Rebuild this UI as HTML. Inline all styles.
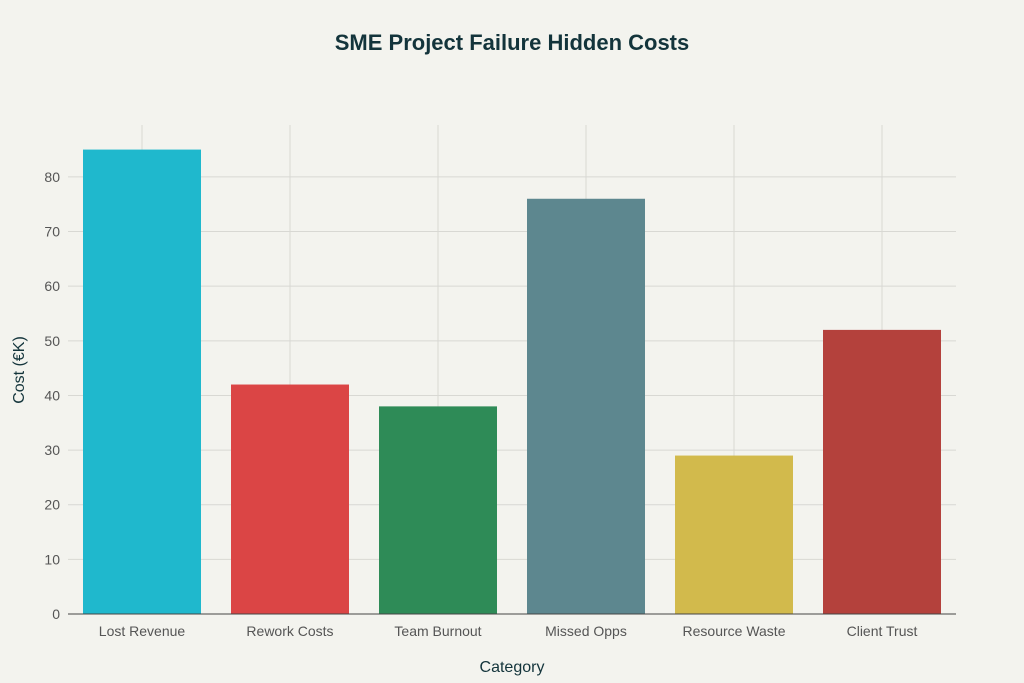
<!DOCTYPE html>
<html><head><meta charset="utf-8"><style>
body{margin:0;background:#f3f3ee;font-family:"Liberation Sans",sans-serif;}
svg{display:block}
</style></head><body>
<svg id="chart" width="1024" height="683">
<rect width="1024" height="683" fill="#f3f3ee"/>
<text x="512" y="50" text-anchor="middle" font-size="22" font-weight="bold" fill="#13343b">SME Project Failure Hidden Costs</text>
<g id="grid"></g><g id="bars"></g><g id="axes"></g>
<text x="512" y="672" text-anchor="middle" font-size="16" fill="#13343b">Category</text>
<text transform="translate(24,370) rotate(-90)" text-anchor="middle" font-size="16" fill="#13343b">Cost (€K)</text>
</svg>
<script>
const categories=["Lost Revenue","Rework Costs","Team Burnout","Missed Opps","Resource Waste","Client Trust"];
const values=[85,42,38,76,29,52];
const colors=["#1FB8CD","#DB4545","#2E8B57","#5D878F","#D2BA4C","#B4413C"];
const yTicks=[0,10,20,30,40,50,60,70,80];
const L=68,R=956,T=125,B=614,yMax=89.5;
const NS="http://www.w3.org/2000/svg";
const step=(R-L)/categories.length;
function x(i){return L+step*(i+0.5);}
function y(v){return B-(B-T)*v/yMax;}
function mk(tag,attrs,parent){const e=document.createElementNS(NS,tag);for(const k in attrs)e.setAttribute(k,attrs[k]);document.getElementById(parent).appendChild(e);return e;}
yTicks.forEach(t=>{
 const g=mk("line",{x1:L,x2:R,y1:y(t),y2:y(t),stroke:"#d8d8d3","stroke-width":1},"grid");
 
 
 const tx=mk("text",{x:L-8,y:y(t)+5,"text-anchor":"end","font-size":14,fill:"#555"},"axes");
 tx.textContent=t;
 
 
});
categories.forEach((c,i)=>{
 const g=mk("line",{x1:x(i),x2:x(i),y1:T,y2:B,stroke:"#d8d8d3","stroke-width":1},"grid");
 
 
 const bw=118;
 const b=mk("rect",{x:x(i)-bw/2,y:y(values[i]),width:bw,height:B-y(values[i]),fill:colors[i]},"bars");
 
 
 const tx=mk("text",{x:x(i),y:B+22,"text-anchor":"middle","font-size":14,fill:"#555"},"axes");
 tx.textContent=c;
 
 
});
const ax=mk("line",{x1:L,x2:R,y1:B,y2:B,stroke:"#444","stroke-width":1},"axes");


</script>
</body></html>
